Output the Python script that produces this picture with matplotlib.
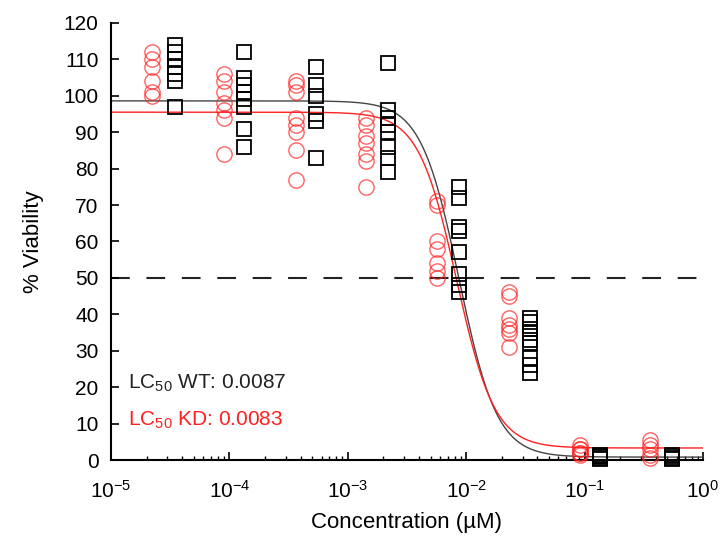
import numpy as np
import matplotlib
matplotlib.use("Agg")
import matplotlib.pyplot as plt
from matplotlib.ticker import LogLocator, NullFormatter

plt.rcParams['font.family'] = ['Liberation Sans', 'DejaVu Sans']
plt.rcParams['mathtext.fontset'] = 'custom'
plt.rcParams['mathtext.rm'] = 'Liberation Sans'
plt.rcParams['mathtext.it'] = 'Liberation Sans'

# Concentrations (uM) for each dose group
kd_conc = [2.2e-5, 9.0e-5, 3.65e-4, 1.43e-3, 5.7e-3, 2.3e-2, 9.1e-2, 0.36]
wt_conc = [3.47e-5, 1.33e-4, 5.4e-4, 2.19e-3, 8.7e-3, 3.46e-2, 0.135, 0.55]

# Viability (%) per dose group
kd_vals = [
    [112, 110, 108, 104, 101, 100],
    [106, 104, 101, 98, 96, 94, 84],
    [104, 103, 101, 94, 92, 90, 85, 77],
    [94, 92, 89, 87, 84, 82, 75],
    [71, 70, 60, 58, 54, 52, 50],
    [46, 45, 39, 37, 36, 35, 31],
    [4, 3, 3, 2, 2, 1.5],
    [5.5, 4, 3, 1.5, 0.5],
]
wt_vals = [
    [114, 112, 110, 108, 106, 104, 97],
    [112, 105, 103, 101, 99, 97, 91, 86],
    [108, 103, 100, 95, 93, 83],
    [109, 96, 94, 92, 90, 86, 83, 79],
    [75, 72, 64, 63, 57, 51, 48, 46],
    [39, 38, 36, 35, 33, 32, 28, 26, 24],
    [1.5, 1, 1, 0.5, 0.3],
    [1.5, 1, 0.5, 0.3],
]

# Fitted 4-parameter logistic curves: top, bottom, LC50, hill
wt_fit = [98.6, 0.8, 0.0087, 2.7]
kd_fit = [95.5, 3.3, 0.0083, 2.7]

def logistic(x, top, bottom, lc50, hill):
    return bottom + (top - bottom) / (1 + (x / lc50) ** hill)

fig = plt.figure(figsize=(7.24, 5.46), dpi=100)
ax = fig.add_axes([0.1533, 0.1575, 0.971 - 0.1533, 0.958 - 0.1575])

red = '#ff2020'
for c, vals in zip(kd_conc, kd_vals):
    ax.plot([c] * len(vals), vals, 'o', ms=11, mfc='none', mec=red, mew=1.0,
            alpha=0.7, clip_on=False, zorder=3)
for c, vals in zip(wt_conc, wt_vals):
    ax.plot([c] * len(vals), vals, 's', ms=10, mfc='none', mec='black', mew=1.3,
            clip_on=False, zorder=3)

xs = np.logspace(-5, 0, 500)
ax.plot(xs, logistic(xs, *wt_fit), color='#444444', lw=1.0, zorder=2)
ax.plot(xs, logistic(xs, *kd_fit), color=red, lw=1.0, zorder=2)

ax.axhline(50, color='#222222', lw=1.5, linestyle=(0, (9, 8)), zorder=1)

ax.set_xscale('log')
ax.set_xlim(1e-5, 1)
ax.set_ylim(0, 120)
ax.set_yticks(np.arange(0, 121, 10))
ax.xaxis.set_major_locator(LogLocator(base=10, numticks=10))
ax.xaxis.set_minor_locator(LogLocator(base=10, subs=np.arange(2, 10), numticks=10))
ax.xaxis.set_minor_formatter(NullFormatter())

for s in ['top', 'right']:
    ax.spines[s].set_visible(False)
for s in ['left', 'bottom']:
    ax.spines[s].set_linewidth(1.5)

ax.tick_params(axis='y', which='major', direction='in', length=6, width=1.2,
               labelsize=15, pad=9)
ax.tick_params(axis='x', which='major', direction='in', length=6, width=1.2,
               labelsize=15, pad=14)
ax.tick_params(axis='x', which='minor', direction='in', length=3, width=1.0)

ax.set_xlabel('Concentration (µM)', fontsize=16, labelpad=8)
ax.set_ylabel('% Viability', fontsize=16, labelpad=14)

ax.text(0.028, 0.175, 'LC$_{50}$ WT: 0.0087', transform=ax.transAxes,
        fontsize=15, color='#222222', va='center')
ax.text(0.028, 0.09, 'LC$_{50}$ KD: 0.0083', transform=ax.transAxes,
        fontsize=15, color=red, va='center')

fig.savefig('out.png', dpi=100)
